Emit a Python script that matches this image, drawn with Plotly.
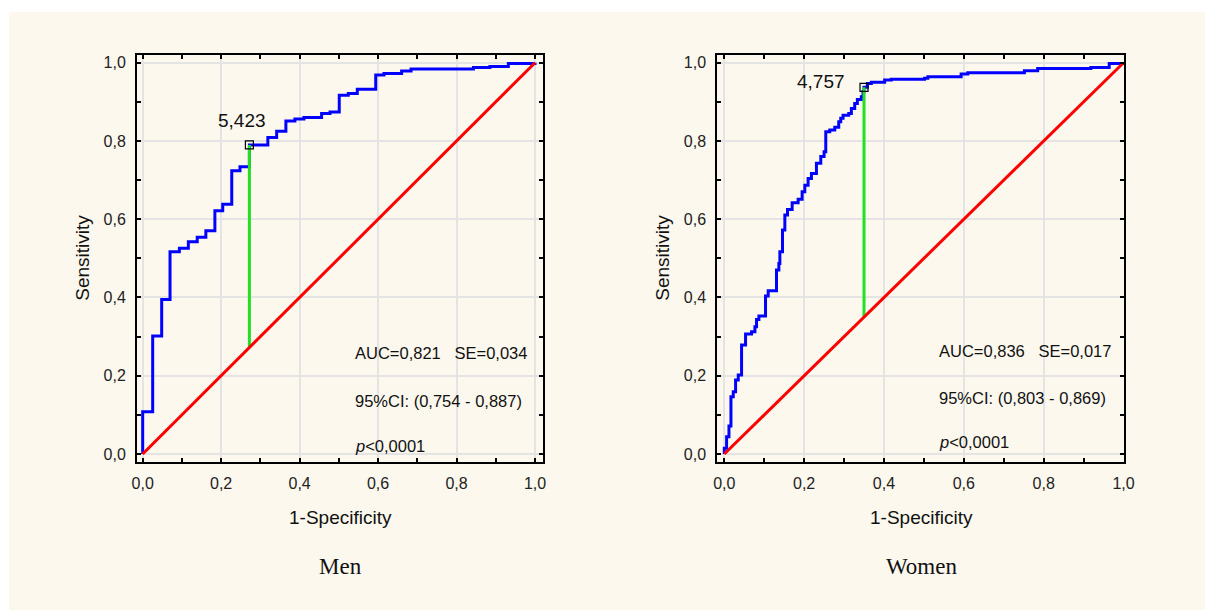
import plotly.graph_objects as go

# ---- data ----
men_fpr = [0, 0, 0.0255, 0.0484, 0.0697, 0.0935, 0.1164, 0.139, 0.161, 0.184, 0.204, 0.227,
           0.248, 0.272, 0.319, 0.3415, 0.365, 0.388, 0.411, 0.456, 0.4775, 0.501, 0.524,
           0.547, 0.594, 0.615, 0.66, 0.684, 0.843, 0.885, 0.932, 1.0]
men_tpr = [0, 0.108, 0.3015, 0.395, 0.517, 0.5256, 0.5426, 0.5537, 0.5707, 0.6218, 0.638,
           0.724, 0.734, 0.79, 0.809, 0.825, 0.851, 0.856, 0.860, 0.8705, 0.874, 0.917,
           0.9216, 0.932, 0.9685, 0.9727, 0.979, 0.984, 0.988, 0.99, 0.998, 1.0]

women_fpr = [0, 0, 0.0058, 0.0117, 0.0167, 0.0225, 0.0283, 0.035, 0.0433, 0.0533, 0.0683,
             0.0767, 0.0808, 0.0867, 0.1033, 0.11, 0.1308, 0.1367, 0.1392, 0.1458, 0.1517,
             0.1583, 0.17, 0.185, 0.195, 0.2017, 0.21, 0.2183, 0.2308, 0.2417, 0.25, 0.2542,
             0.2642, 0.2767, 0.2867, 0.2917, 0.2975, 0.3117, 0.3183, 0.3267, 0.3333, 0.3433,
             0.3475, 0.35, 0.3583, 0.3683, 0.4017, 0.4183, 0.5017, 0.51, 0.5933, 0.61,
             0.7517, 0.785, 0.9183, 0.9642, 1.0]
women_tpr = [0, 0.0145, 0.044, 0.0716, 0.1465, 0.159, 0.189, 0.202, 0.2785, 0.3066, 0.3126,
             0.325, 0.344, 0.3526, 0.4037, 0.417, 0.47, 0.487, 0.517, 0.5724, 0.6107, 0.625,
             0.642, 0.651, 0.670, 0.687, 0.704, 0.717, 0.743, 0.760, 0.7726, 0.8237, 0.828,
             0.835, 0.849, 0.858, 0.866, 0.8705, 0.883, 0.896, 0.906, 0.913, 0.926, 0.937,
             0.947, 0.95, 0.9557, 0.958, 0.96, 0.964, 0.971, 0.9745, 0.9796, 0.9855, 0.988,
             0.998, 1.0]

diag = [0, 1]

men_cut = {"x": 0.272, "y": 0.79, "label": "5,423"}
women_cut = {"x": 0.35, "y": 0.937, "label": "4,757"}

men_stats = ["AUC=0,821   SE=0,034", "95%CI: (0,754 - 0,887)", "<i>p</i>&lt;0,0001"]
women_stats = ["AUC=0,836   SE=0,017", "95%CI: (0,803 - 0,869)", "<i>p</i>&lt;0,0001"]

tick_vals = [0, 0.2, 0.4, 0.6, 0.8, 1.0]
tick_text = ["0,0", "0,2", "0,4", "0,6", "0,8", "1,0"]

panel_titles = ["Men", "Women"]

# ---- figure ----
W, H = 1205, 610
fig = go.Figure()

BLUE = "#0000ff"
RED = "#ff0000"
GREEN = "#22e022"

panels = [
    dict(fpr=men_fpr, tpr=men_tpr, cut=men_cut, stats=men_stats, xa="x", ya="y",
         stat_x=0.535, stat_y=[0.257, 0.136, 0.02], lab=(0.252, 0.852)),
    dict(fpr=women_fpr, tpr=women_tpr, cut=women_cut, stats=women_stats, xa="x2", ya="y2",
         stat_x=0.5335, stat_y=[0.264, 0.144, 0.032], lab=(0.242, 0.951)),
]

annotations = []
for p in panels:
    fig.add_trace(go.Scatter(x=p["fpr"], y=p["tpr"], mode="lines", line=dict(color=BLUE, width=3, shape="hv"),
                             xaxis=p["xa"], yaxis=p["ya"], showlegend=False, hoverinfo="skip"))
    c = p["cut"]
    fig.add_trace(go.Scatter(x=[c["x"], c["x"]], y=[c["x"], c["y"]], mode="lines",
                             line=dict(color=GREEN, width=3), xaxis=p["xa"], yaxis=p["ya"],
                             showlegend=False, hoverinfo="skip"))
    fig.add_trace(go.Scatter(x=diag, y=diag, mode="lines", line=dict(color=RED, width=3),
                             xaxis=p["xa"], yaxis=p["ya"], showlegend=False, hoverinfo="skip"))
    fig.add_trace(go.Scatter(x=[c["x"]], y=[c["y"]], mode="markers",
                             marker=dict(symbol="square-open", size=8, color="black", line=dict(width=1.2)),
                             xaxis=p["xa"], yaxis=p["ya"], showlegend=False, hoverinfo="skip"))
    annotations.append(dict(x=p["lab"][0], y=p["lab"][1], xref=p["xa"], yref=p["ya"], text=c["label"],
                            showarrow=False, font=dict(size=19, color="#111"), xanchor="center", yanchor="middle"))
    for t, yy in zip(p["stats"], p["stat_y"]):
        annotations.append(dict(x=p["stat_x"], y=yy, xref=p["xa"], yref=p["ya"], text=t, showarrow=False,
                                font=dict(size=16.5, color="#111"), xanchor="left", yanchor="middle"))

# axis titles and panel captions (pixel positions converted to paper)
def px(x):
    return x / W

def py(y):
    return 1 - y / H

for cx, ylab_x, title in [(340, 81.7, panel_titles[0]), (921.7, 661.7, panel_titles[1])]:
    annotations.append(dict(x=px(cx), y=py(517), xref="paper", yref="paper", text="1-Specificity",
                            showarrow=False, font=dict(size=19, color="#111"), xanchor="center", yanchor="middle"))
    annotations.append(dict(x=px(ylab_x), y=py(258), xref="paper", yref="paper", text="Sensitivity",
                            showarrow=False, textangle=-90, font=dict(size=19, color="#111"),
                            xanchor="center", yanchor="middle"))
    annotations.append(dict(x=px(cx), y=py(566), xref="paper", yref="paper", text=title, showarrow=False,
                            font=dict(size=23, color="#111", family="Liberation Serif, Times New Roman, serif"),
                            xanchor="center", yanchor="middle"))

axis_common = dict(
    tickvals=tick_vals, ticktext=tick_text, ticks="inside", ticklen=4, tickwidth=1.5, tickcolor="black",
    minor=dict(ticks="inside", dtick=0.1, tick0=0, ticklen=4, tickwidth=1.5, tickcolor="black", showgrid=False),
    showline=True, linecolor="black", linewidth=2, mirror="ticks",
    showgrid=True, gridcolor="#e4e4e4", gridwidth=2, zeroline=False, automargin=False,
    tickfont=dict(size=16, color="#222"), ticklabelstandoff=6, fixedrange=True,
)

fig.update_layout(
    width=W, height=H, margin=dict(l=0, r=0, t=0, b=0, pad=0, autoexpand=False),
    paper_bgcolor="white", plot_bgcolor="white",
    font=dict(family="Liberation Sans, Arial, sans-serif", color="#111"),
    xaxis=dict(domain=[137 / W, 542.7 / W], range=[-0.0145, 1.0196], anchor="y", **axis_common),
    yaxis=dict(domain=[1 - 461.7 / H, 1 - 55 / H], range=[-0.0197, 1.0197], anchor="x", **axis_common),
    xaxis2=dict(domain=[717.3 / W, 1124.3 / W], range=[-0.0175, 1.002], anchor="y2", **axis_common),
    yaxis2=dict(domain=[1 - 462 / H, 1 - 55 / H], range=[-0.0204, 1.0197], anchor="x2", **axis_common),
    annotations=annotations,
    shapes=[dict(type="rect", xref="paper", yref="paper", x0=9 / W, x1=1.0, y0=0, y1=1 - 12 / H,
                 fillcolor="#fcf8ee", line=dict(width=0), layer="below")],
    showlegend=False,
)

fig.write_html("out.html", config={"displayModeBar": False},
               post_script="document.body.style.margin='0';document.body.style.overflow='hidden';")
